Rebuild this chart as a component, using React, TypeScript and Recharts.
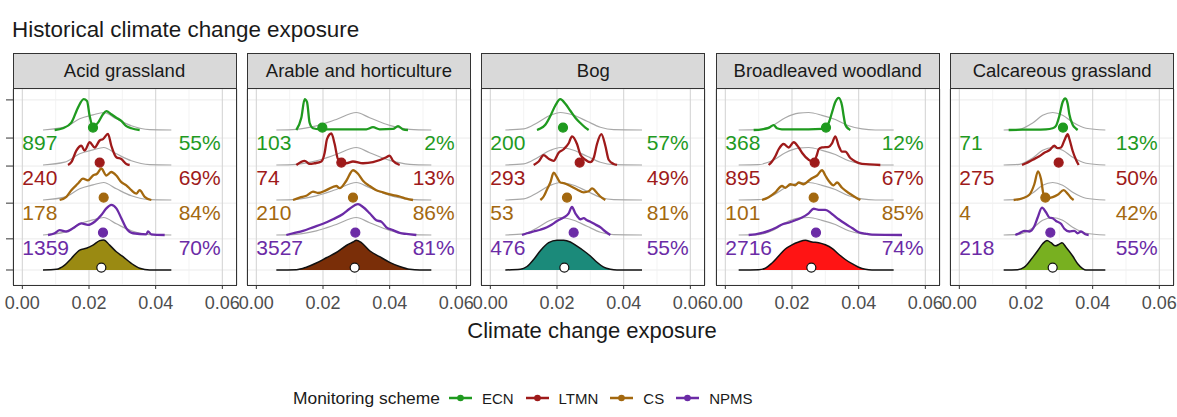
import React from 'react';
import {
    ComposedChart,
    Line,
    Area,
    Scatter,
    XAxis,
    YAxis,
    CartesianGrid
} from 'recharts';

type Pt = [number, number];

const habitats = ['Acid grassland', 'Arable and horticulture', 'Bog', 'Broadleaved woodland', 'Calcareous grassland'];
const schemes = ['ECN', 'LTMN', 'CS', 'NPMS'];
const schemeColors = ['#1f9a1f', '#9e1a1a', '#a3680f', '#6b2ba6'];
const habitatFills = ['#9a8a12', '#7a2e08', '#1b8a7a', '#ff1414', '#78b020'];

// number of sites per habitat / scheme
const counts = [
    ['897', '240', '178', '1359'],
    ['103', '74', '210', '3527'],
    ['200', '293', '53', '476'],
    ['368', '895', '101', '2716'],
    ['71', '275', '4', '218'],
];
// habitat coverage per habitat / scheme
const coverage = [
    ['55%', '69%', '84%', '70%'],
    ['2%', '13%', '86%', '81%'],
    ['57%', '49%', '81%', '55%'],
    ['12%', '67%', '85%', '74%'],
    ['13%', '50%', '42%', '55%'],
];
const schemeMeans = [
    [0.0212, 0.0232, 0.0244, 0.0242],
    [0.0198, 0.0255, 0.029, 0.0297],
    [0.0218, 0.0268, 0.023, 0.025],
    [0.0302, 0.0268, 0.0265, 0.0272],
    [0.0311, 0.0298, 0.0258, 0.0273],
];
const overallMeans = [0.0237, 0.0295, 0.0222, 0.0258, 0.028];

const xTicks = [0, 0.02, 0.04, 0.06];
const xMinor = [0.01, 0.03, 0.05];
const yTicks = [0, 0.89, 1.91, 2.97, 3.77, 4.86];

// densities: [exposure, ridge height]
const acidECN: Pt[] = [[0.0097, 0], [0.0122, 0.05], [0.0147, 0.21], [0.0167, 0.64], [0.0184, 0.88], [0.0194, 0.83], [0.0202, 0.4], [0.0212, 0.09], [0.0227, 0.21], [0.0242, 0.45], [0.0252, 0.54], [0.0267, 0.45], [0.0282, 0.35], [0.0297, 0.26], [0.0312, 0.11], [0.0327, 0.05], [0.0352, 0]];
const acidLTMN: Pt[] = [[0.0137, 0], [0.0147, 0.08], [0.0162, 0.41], [0.0177, 0.55], [0.0187, 0.41], [0.0202, 0.65], [0.0217, 0.5], [0.0232, 0.7], [0.0242, 0.74], [0.0257, 0.89], [0.0267, 0.55], [0.0282, 0.22], [0.0297, 0.17], [0.0312, 0.03], [0.0322, 0]];
const acidCS: Pt[] = [[0.0112, 0], [0.0132, 0.09], [0.0147, 0.28], [0.0167, 0.47], [0.0182, 0.61], [0.0197, 0.56], [0.0212, 0.7], [0.0224, 0.75], [0.0237, 0.9], [0.0252, 0.7], [0.0267, 0.8], [0.0282, 0.7], [0.0297, 0.51], [0.0312, 0.42], [0.0327, 0.28], [0.0342, 0.18], [0.0352, 0.28], [0.0367, 0.09], [0.0387, 0]];
const acidNPMS: Pt[] = [[0.0077, 0], [0.0097, 0.05], [0.0112, 0.14], [0.0132, 0.1], [0.0152, 0.19], [0.0177, 0.33], [0.0197, 0.29], [0.0217, 0.38], [0.0237, 0.57], [0.0252, 0.76], [0.0267, 0.86], [0.0282, 0.76], [0.0297, 0.48], [0.0312, 0.19], [0.0332, 0.05], [0.0372, 0.02], [0.0377, 0.1], [0.0387, 0.02], [0.0427, 0]];
const acidAll: Pt[] = [[0.0062, 0], [0.0102, 0.02], [0.0127, 0.14], [0.0147, 0.33], [0.0172, 0.57], [0.0192, 0.62], [0.0212, 0.71], [0.0232, 0.84], [0.0244, 0.86], [0.0262, 0.71], [0.0282, 0.52], [0.0302, 0.38], [0.0327, 0.19], [0.0352, 0.05], [0.0382, 0], [0.0447, 0]];
const acidRef: Pt[] = [[0.0062, 0], [0.0127, 0.08], [0.0172, 0.32], [0.0212, 0.43], [0.0244, 0.5], [0.0282, 0.32], [0.0327, 0.12], [0.0382, 0.01], [0.0447, 0]];

const arableECN: Pt[] = [[0.012, 0], [0.0135, 0.35], [0.0145, 0.88], [0.0152, 0.8], [0.016, 0.2], [0.017, 0.05], [0.019, 0.02], [0.025, 0.02], [0.033, 0.02], [0.035, 0.08], [0.037, 0.02], [0.041, 0.03], [0.0425, 0.11], [0.044, 0.02], [0.0455, 0]];
const arableLTMN: Pt[] = [[0.012, 0], [0.0145, 0.12], [0.016, 0.03], [0.0175, 0.05], [0.0195, 0.1], [0.0205, 0.35], [0.0212, 0.74], [0.0225, 0.9], [0.0235, 0.6], [0.0245, 0.17], [0.027, 0.05], [0.029, 0.1], [0.032, 0.05], [0.035, 0.08], [0.039, 0.22], [0.04, 0.27], [0.041, 0.12], [0.043, 0]];
const arableCS: Pt[] = [[0.011, 0], [0.013, 0.07], [0.015, 0.12], [0.017, 0.24], [0.0185, 0.2], [0.021, 0.28], [0.024, 0.4], [0.025, 0.34], [0.027, 0.55], [0.029, 0.85], [0.0305, 0.75], [0.032, 0.55], [0.034, 0.4], [0.036, 0.28], [0.038, 0.22], [0.041, 0.14], [0.043, 0.1], [0.045, 0.04], [0.047, 0]];
const arableNPMS: Pt[] = [[0.009, 0], [0.011, 0.05], [0.014, 0.12], [0.017, 0.22], [0.02, 0.32], [0.023, 0.45], [0.026, 0.6], [0.028, 0.75], [0.0305, 0.88], [0.032, 0.8], [0.034, 0.62], [0.036, 0.42], [0.0375, 0.38], [0.039, 0.22], [0.041, 0.14], [0.043, 0.06], [0.045, 0.03], [0.048, 0]];
const arableAll: Pt[] = [[0.006, 0], [0.012, 0.01], [0.015, 0.08], [0.018, 0.2], [0.021, 0.35], [0.024, 0.5], [0.027, 0.7], [0.029, 0.8], [0.03, 0.85], [0.0315, 0.78], [0.034, 0.55], [0.037, 0.38], [0.04, 0.22], [0.043, 0.1], [0.046, 0.02], [0.049, 0], [0.0525, 0]];
const arableRef: Pt[] = [[0.006, 0], [0.012, 0.02], [0.018, 0.12], [0.024, 0.3], [0.03, 0.5], [0.034, 0.35], [0.04, 0.13], [0.046, 0.02], [0.0525, 0]];

const bogECN: Pt[] = [[0.014, 0], [0.015, 0.04], [0.0165, 0.15], [0.018, 0.4], [0.0195, 0.7], [0.021, 0.88], [0.0225, 0.75], [0.024, 0.55], [0.0255, 0.35], [0.027, 0.2], [0.0285, 0.07], [0.0295, 0]];
const bogLTMN: Pt[] = [[0.013, 0], [0.0145, 0.1], [0.016, 0.28], [0.0175, 0.18], [0.019, 0.12], [0.0205, 0.35], [0.022, 0.45], [0.0235, 0.62], [0.0245, 0.82], [0.026, 0.6], [0.027, 0.3], [0.0285, 0.15], [0.03, 0.08], [0.031, 0.2], [0.032, 0.6], [0.0333, 0.88], [0.0345, 0.55], [0.0355, 0.15], [0.037, 0.03], [0.038, 0]];
const bogCS: Pt[] = [[0.015, 0], [0.016, 0.1], [0.017, 0.3], [0.018, 0.5], [0.019, 0.78], [0.02, 0.65], [0.021, 0.5], [0.022, 0.48], [0.024, 0.4], [0.026, 0.3], [0.028, 0.22], [0.0295, 0.25], [0.0305, 0.33], [0.032, 0.2], [0.033, 0.1], [0.0345, 0]];
const bogNPMS: Pt[] = [[0.0095, 0], [0.011, 0.05], [0.013, 0.1], [0.015, 0.15], [0.017, 0.22], [0.0185, 0.3], [0.02, 0.4], [0.021, 0.45], [0.022, 0.5], [0.0235, 0.62], [0.0245, 0.8], [0.0255, 0.62], [0.026, 0.55], [0.027, 0.45], [0.028, 0.48], [0.029, 0.42], [0.03, 0.38], [0.0315, 0.3], [0.033, 0.22], [0.0345, 0.1], [0.036, 0]];
const bogAll: Pt[] = [[0.0045, 0], [0.009, 0.02], [0.011, 0.1], [0.013, 0.3], [0.015, 0.55], [0.0175, 0.78], [0.02, 0.85], [0.022, 0.85], [0.024, 0.8], [0.026, 0.68], [0.028, 0.55], [0.03, 0.4], [0.032, 0.22], [0.034, 0.08], [0.036, 0.02], [0.038, 0], [0.0455, 0]];
const bogRef: Pt[] = [[0.0045, 0], [0.01, 0.03], [0.014, 0.2], [0.018, 0.42], [0.021, 0.5], [0.025, 0.42], [0.029, 0.25], [0.033, 0.08], [0.037, 0.01], [0.0455, 0]];

const broadECN: Pt[] = [[0.0085, 0], [0.011, 0.02], [0.013, 0.06], [0.0145, 0.14], [0.0155, 0.05], [0.017, 0.02], [0.021, 0.02], [0.025, 0.02], [0.029, 0.03], [0.03, 0.06], [0.031, 0.2], [0.032, 0.5], [0.033, 0.8], [0.034, 0.92], [0.035, 0.7], [0.0355, 0.4], [0.036, 0.15], [0.037, 0.03], [0.0375, 0]];
const broadLTMN: Pt[] = [[0.013, 0], [0.014, 0.1], [0.015, 0.25], [0.016, 0.45], [0.0175, 0.6], [0.019, 0.5], [0.0205, 0.65], [0.022, 0.5], [0.023, 0.35], [0.025, 0.15], [0.026, 0.1], [0.0265, 0.1], [0.0275, 0.3], [0.028, 0.45], [0.029, 0.5], [0.031, 0.52], [0.032, 0.62], [0.033, 0.82], [0.034, 0.55], [0.035, 0.38], [0.036, 0.38], [0.0375, 0.2], [0.039, 0.1], [0.041, 0.03], [0.0465, 0]];
const broadCS: Pt[] = [[0.011, 0], [0.013, 0.08], [0.015, 0.22], [0.017, 0.4], [0.018, 0.35], [0.0195, 0.45], [0.021, 0.42], [0.022, 0.5], [0.0235, 0.45], [0.025, 0.55], [0.026, 0.62], [0.0275, 0.7], [0.029, 0.85], [0.03, 0.7], [0.031, 0.55], [0.0325, 0.42], [0.0335, 0.5], [0.035, 0.35], [0.037, 0.2], [0.039, 0.08], [0.0405, 0]];
const broadNPMS: Pt[] = [[0.007, 0], [0.009, 0.02], [0.011, 0.06], [0.013, 0.12], [0.015, 0.2], [0.017, 0.3], [0.019, 0.35], [0.021, 0.42], [0.023, 0.5], [0.025, 0.62], [0.0265, 0.75], [0.028, 0.72], [0.03, 0.72], [0.032, 0.6], [0.034, 0.45], [0.036, 0.32], [0.038, 0.2], [0.04, 0.08], [0.042, 0.04], [0.044, 0.01], [0.053, 0]];
const broadAll: Pt[] = [[0.004, 0], [0.01, 0.01], [0.012, 0.05], [0.014, 0.2], [0.016, 0.4], [0.018, 0.6], [0.02, 0.72], [0.022, 0.8], [0.024, 0.85], [0.026, 0.8], [0.028, 0.78], [0.03, 0.72], [0.032, 0.62], [0.034, 0.45], [0.036, 0.3], [0.038, 0.18], [0.04, 0.08], [0.042, 0.02], [0.044, 0], [0.0505, 0]];
const broadRef: Pt[] = [[0.004, 0], [0.01, 0.01], [0.014, 0.12], [0.018, 0.35], [0.022, 0.48], [0.025, 0.5], [0.029, 0.42], [0.033, 0.3], [0.037, 0.12], [0.041, 0.03], [0.045, 0], [0.0505, 0]];

const calcECN: Pt[] = [[0.0148, 0], [0.02, 0.01], [0.026, 0.02], [0.028, 0.05], [0.029, 0.12], [0.03, 0.4], [0.031, 0.8], [0.0318, 0.9], [0.0325, 0.75], [0.033, 0.45], [0.034, 0.15], [0.035, 0.04], [0.0355, 0]];
const calcLTMN: Pt[] = [[0.0188, 0], [0.02, 0.05], [0.022, 0.15], [0.024, 0.25], [0.0255, 0.35], [0.027, 0.42], [0.0285, 0.55], [0.0295, 0.48], [0.0305, 0.5], [0.0315, 0.7], [0.0325, 0.88], [0.033, 0.75], [0.034, 0.4], [0.035, 0.15], [0.0358, 0]];
const calcCS: Pt[] = [[0.0163, 0], [0.019, 0.05], [0.021, 0.15], [0.0225, 0.45], [0.0236, 0.82], [0.0245, 0.6], [0.0253, 0.15], [0.0265, 0.05], [0.028, 0.08], [0.0295, 0.15], [0.0313, 0.28], [0.0325, 0.18], [0.0335, 0.06], [0.0343, 0]];
const calcNPMS: Pt[] = [[0.0168, 0], [0.018, 0.05], [0.0195, 0.12], [0.021, 0.1], [0.0225, 0.25], [0.0235, 0.5], [0.0248, 0.78], [0.026, 0.65], [0.027, 0.5], [0.028, 0.48], [0.029, 0.4], [0.0305, 0.32], [0.0315, 0.18], [0.033, 0.1], [0.0345, 0.12], [0.0355, 0.05], [0.0365, 0.1], [0.0378, 0.02], [0.0388, 0]];
const calcAll: Pt[] = [[0.0133, 0], [0.0175, 0.01], [0.0195, 0.08], [0.0215, 0.3], [0.0235, 0.55], [0.025, 0.75], [0.0263, 0.84], [0.0275, 0.78], [0.0288, 0.69], [0.03, 0.74], [0.0308, 0.78], [0.032, 0.65], [0.034, 0.4], [0.0355, 0.18], [0.037, 0.04], [0.038, 0], [0.0438, 0]];
const calcRef: Pt[] = [[0.0133, 0], [0.018, 0.02], [0.022, 0.2], [0.025, 0.42], [0.028, 0.5], [0.031, 0.42], [0.034, 0.22], [0.038, 0.05], [0.0438, 0]];

const schemeDens = [
    [acidECN, acidLTMN, acidCS, acidNPMS],
    [arableECN, arableLTMN, arableCS, arableNPMS],
    [bogECN, bogLTMN, bogCS, bogNPMS],
    [broadECN, broadLTMN, broadCS, broadNPMS],
    [calcECN, calcLTMN, calcCS, calcNPMS],
];
const overallDens = [acidAll, arableAll, bogAll, broadAll, calcAll];
const refDens = [acidRef, arableRef, bogRef, broadRef, calcRef];

// layout
const FONT = '"Liberation Sans", Arial, sans-serif';
const X_DOMAIN: [number, number] = [-0.0028, 0.0644];
const Y_DOMAIN: [number, number] = [-0.4286, 5.1714];
const rowBase = [4, 3, 2, 1]; // overall ridge sits at 0
const PANEL_W = 224;
const PANEL_H = 196;
const PANEL_TOP = 89;
const STRIP_TOP = 53;
const PANEL_LEFT0 = 12.5;
const PANEL_STEP = 234.4;
const AXIS_W = 20;

const toRows = (pts: Pt[], base: number) => pts.map(([x, h]) => ({ x, y: base + h }));

// minor vertical grid lines, placed along the x domain of the plot area
const minorGen = (props: any) => {
    const off = props.offset;
    return xMinor.map((v) => off.left + ((v - X_DOMAIN[0]) / (X_DOMAIN[1] - X_DOMAIN[0])) * off.width);
};

function Facet({ idx }: { idx: number }) {
    const left = PANEL_LEFT0 + idx * PANEL_STEP;
    const pointData = [
        ...schemes.map((s, k) => ({ x: schemeMeans[idx][k], y: rowBase[k] + 0.07, fill: schemeColors[k], stroke: schemeColors[k] })),
        { x: overallMeans[idx], y: 0.07, fill: '#ffffff', stroke: '#111111' },
    ];
    const countData = schemes.map((s, k) => ({ x: 0, y: rowBase[k] - 0.35, text: counts[idx][k], color: schemeColors[k], anchor: 'start' }));
    const pctData = schemes.map((s, k) => ({ x: 0.0595, y: rowBase[k] - 0.35, text: coverage[idx][k], color: schemeColors[k], anchor: 'end' }));
    const textShape = (p: any) => (
        <text
            x={p.cx}
            y={p.cy}
            textAnchor={p.payload.anchor}
            dominantBaseline="central"
            fill={p.payload.color}
            fontSize={21}
            fontFamily={FONT}
        >
            {p.payload.text}
        </text>
    );
    return (
        <>
            <div
                style={{
                    position: 'absolute',
                    left,
                    top: STRIP_TOP,
                    width: PANEL_W,
                    height: PANEL_TOP - STRIP_TOP,
                    boxSizing: 'border-box',
                    border: '1px solid #333',
                    background: '#d9d9d9',
                    display: 'flex',
                    alignItems: 'center',
                    justifyContent: 'center',
                    fontSize: 18.5,
                    color: '#1a1a1a',
                    fontFamily: FONT,
                }}
            >
                {habitats[idx]}
            </div>
            <div style={{ position: 'absolute', left: left - AXIS_W, top: PANEL_TOP }}>
                <ComposedChart
                    width={PANEL_W + AXIS_W + 20}
                    height={PANEL_H + 40}
                    margin={{ top: 0, right: 20, bottom: 0, left: 0 }}
                >
                    <CartesianGrid vertical={false} stroke="#ebebeb" strokeWidth={1} />
                    <CartesianGrid horizontal={false} stroke="#f0f0f0" strokeWidth={0.8} verticalCoordinatesGenerator={minorGen} />
                    <CartesianGrid horizontal={false} stroke="#d6d6d6" strokeWidth={1.1} />
                    <XAxis
                        type="number"
                        dataKey="x"
                        domain={X_DOMAIN}
                        allowDataOverflow
                        ticks={xTicks}
                        interval={0}
                        tickFormatter={(v: number) => v.toFixed(2)}
                        axisLine={false}
                        tickLine={{ stroke: '#333' }}
                        tickSize={4}
                        tickMargin={7}
                        tick={{ fill: '#4d4d4d', fontSize: 18, fontFamily: FONT }}
                        height={40}
                    />
                    <YAxis
                        type="number"
                        dataKey="y"
                        domain={Y_DOMAIN}
                        allowDataOverflow
                        ticks={yTicks}
                        interval={0}
                        width={AXIS_W}
                        axisLine={false}
                        tickLine={idx === 0 ? { stroke: '#333' } : false}
                        tickSize={7}
                        tickFormatter={() => ''}
                    />
                    {schemes.map((s, k) => (
                        <Line
                            key={'ref' + s}
                            data={toRows(refDens[idx], rowBase[k])}
                            dataKey="y"
                            type="monotone"
                            stroke="#a8a8a8"
                            strokeWidth={1.2}
                            dot={false}
                            activeDot={false}
                            isAnimationActive={false}
                        />
                    ))}
                    <Area
                        data={toRows(overallDens[idx], 0)}
                        dataKey="y"
                        type="monotone"
                        baseValue={0}
                        stroke="#111111"
                        strokeWidth={1.5}
                        fill={habitatFills[idx]}
                        fillOpacity={1}
                        dot={false}
                        activeDot={false}
                        isAnimationActive={false}
                    />
                    {schemes.map((s, k) => (
                        <Line
                            key={'dens' + s}
                            data={toRows(schemeDens[idx][k], rowBase[k])}
                            dataKey="y"
                            type="monotone"
                            stroke={schemeColors[k]}
                            strokeWidth={2.3}
                            strokeLinejoin="round"
                            dot={false}
                            activeDot={false}
                            isAnimationActive={false}
                        />
                    ))}
                    <Scatter
                        data={pointData}
                        dataKey="y"
                        isAnimationActive={false}
                        shape={(p: any) => (
                            <circle cx={p.cx} cy={p.cy} r={4.5} fill={p.payload.fill} stroke={p.payload.stroke} strokeWidth={1.2} />
                        )}
                    />
                    <Scatter data={countData} dataKey="y" isAnimationActive={false} shape={textShape} />
                    <Scatter data={pctData} dataKey="y" isAnimationActive={false} shape={textShape} />
                </ComposedChart>
            </div>
            <div
                style={{
                    position: 'absolute',
                    left,
                    top: PANEL_TOP - 1,
                    width: PANEL_W,
                    height: PANEL_H + 2,
                    boxSizing: 'border-box',
                    border: '1px solid #333',
                    pointerEvents: 'none',
                }}
            />
        </>
    );
}

function LegendKey({ color }: { color: string }) {
    return (
        <svg width={23} height={10} style={{ marginRight: 10 }}>
            <line x1={0} y1={5} x2={23} y2={5} stroke={color} strokeWidth={2.5} />
            <circle cx={11.5} cy={5} r={3.3} fill={color} />
        </svg>
    );
}

export default function App() {
    return (
        <div
            style={{
                position: 'absolute',
                left: 0,
                top: 0,
                width: 1177,
                height: 417,
                background: '#ffffff',
                fontFamily: FONT,
                overflow: 'hidden',
            }}
        >
            <div style={{ position: 'absolute', left: 12, top: 19, fontSize: 22.4, lineHeight: 1, color: '#1a1a1a' }}>
                Historical climate change exposure
            </div>
            {habitats.map((h, i) => (
                <Facet key={h} idx={i} />
            ))}
            <div
                style={{
                    position: 'absolute',
                    left: 392,
                    width: 400,
                    top: 320,
                    textAlign: 'center',
                    fontSize: 22,
                    lineHeight: 1,
                    color: '#1a1a1a',
                }}
            >
                Climate change exposure
            </div>
            <div
                style={{
                    position: 'absolute',
                    left: 293,
                    top: 388,
                    height: 20,
                    display: 'flex',
                    alignItems: 'center',
                    color: '#1a1a1a',
                }}
            >
                <span style={{ fontSize: 17.4, marginRight: 9 }}>Monitoring scheme</span>
                {schemes.map((s, k) => (
                    <React.Fragment key={s}>
                        <LegendKey color={schemeColors[k]} />
                        <span style={{ fontSize: 15, marginRight: 12 }}>{s}</span>
                    </React.Fragment>
                ))}
            </div>
        </div>
    );
}
